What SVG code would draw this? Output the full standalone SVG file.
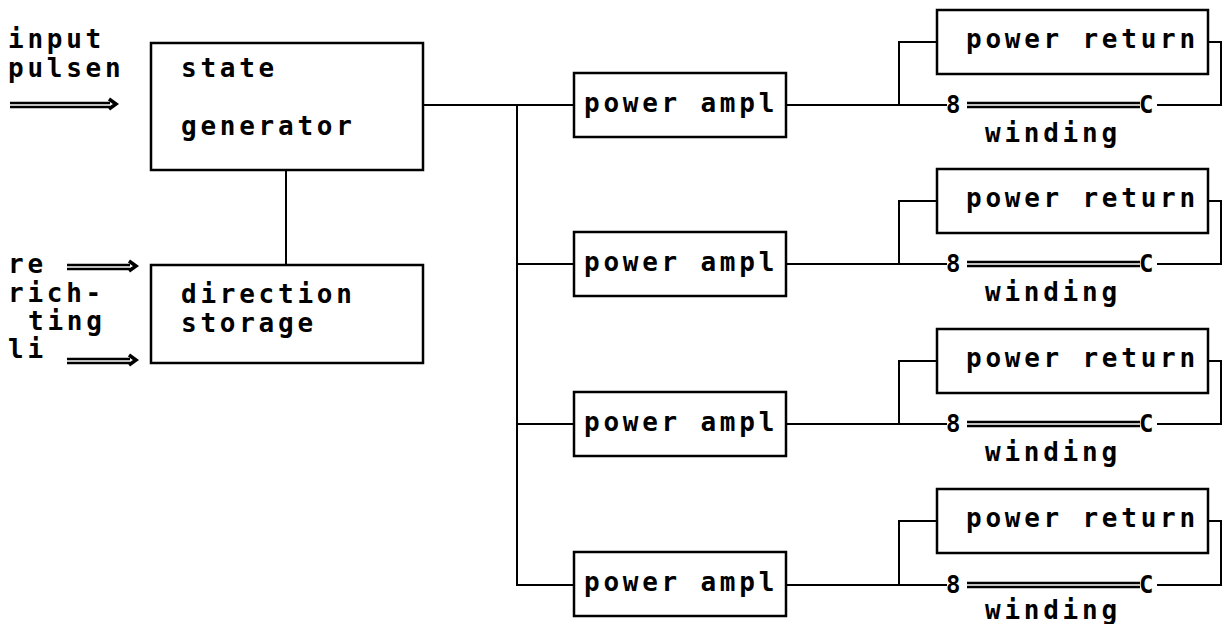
<svg xmlns="http://www.w3.org/2000/svg" width="1224" height="624" viewBox="0 0 1224 624">
<defs>
<style>
.box{fill:none;stroke:#000;stroke-width:2.5}
.ln{fill:none;stroke:#000;stroke-width:2}
.dbl{fill:none;stroke:#000;stroke-width:2.3}
.head{fill:none;stroke:#000;stroke-width:3.5;stroke-linejoin:miter}
.t{font-family:"DejaVu Sans Mono","Liberation Mono",monospace;font-size:26px;font-weight:bold;letter-spacing:3.75px;fill:#000}
.s{font-family:"DejaVu Sans Mono","Liberation Mono",monospace;font-size:24px;font-weight:bold;fill:#000}
</style>
</defs>
<rect width="1224" height="624" fill="#fff"/>

<g id="input-pulsen">
<text class="t" x="8" y="48">input</text>
<text class="t" x="8" y="77">pulsen</text>
<path class="dbl" d="M10,103H110M10,107H110"/>
<path class="head" d="M109,99L116,104L109,109"/>
</g>
<g id="input-richting">
<text class="t" x="8" y="273">re</text>
<text class="t" x="8" y="302">rich-</text>
<text class="t" x="28" y="330">ting</text>
<text class="t" x="8" y="358">li</text>
<path class="dbl" d="M67,265H130M67,269H130"/>
<path class="head" d="M129,261L136,266L129,271"/>
<path class="dbl" d="M67,359H130M67,363H130"/>
<path class="head" d="M129,355L136,360L129,365"/>
</g>

<g id="state-generator">
<rect class="box" x="151" y="43" width="272" height="127"/>
<text class="t" x="181" y="77">state</text>
<text class="t" x="181" y="135">generator</text>
</g>
<g id="direction-storage">
<rect class="box" x="151" y="265" width="272" height="98"/>
<text class="t" x="181" y="303">direction</text>
<text class="t" x="181" y="332">storage</text>
</g>

<g id="power-ampl-1"><rect class="box" x="574" y="73" width="212" height="64"/><text class="t" x="584" y="112">power ampl</text></g>
<g id="power-ampl-2"><rect class="box" x="574" y="232" width="212" height="64"/><text class="t" x="584" y="271">power ampl</text></g>
<g id="power-ampl-3"><rect class="box" x="574" y="392" width="212" height="64"/><text class="t" x="584" y="431">power ampl</text></g>
<g id="power-ampl-4"><rect class="box" x="574" y="552" width="212" height="64"/><text class="t" x="584" y="591">power ampl</text></g>

<g id="power-return-1"><rect class="box" x="937" y="10" width="271" height="64"/><text class="t" x="966" y="48">power return</text></g>
<g id="power-return-2"><rect class="box" x="937" y="169" width="271" height="64"/><text class="t" x="966" y="207">power return</text></g>
<g id="power-return-3"><rect class="box" x="937" y="329" width="271" height="64"/><text class="t" x="966" y="367">power return</text></g>
<g id="power-return-4"><rect class="box" x="937" y="489" width="271" height="64"/><text class="t" x="966" y="527">power return</text></g>

<g id="winding-1"><text class="s" x="946" y="113">8</text><path class="dbl" d="M967,103H1140M967,107H1140"/><text class="s" x="1139" y="113">C</text><text class="t" x="985" y="142">winding</text></g>
<g id="winding-2"><text class="s" x="946" y="272">8</text><path class="dbl" d="M967,262H1140M967,266H1140"/><text class="s" x="1139" y="272">C</text><text class="t" x="985" y="301">winding</text></g>
<g id="winding-3"><text class="s" x="946" y="432">8</text><path class="dbl" d="M967,422H1140M967,426H1140"/><text class="s" x="1139" y="432">C</text><text class="t" x="985" y="461">winding</text></g>
<g id="winding-4"><text class="s" x="946" y="593">8</text><path class="dbl" d="M967,583H1140M967,587H1140"/><text class="s" x="1139" y="593">C</text><text class="t" x="985" y="619">winding</text></g>

<g id="connectors">
<path class="ln" d="M286,170V265"/>
<path class="ln" d="M423,105H574"/>
<path class="ln" d="M517,105V585H574"/>
<path class="ln" d="M517,264H574"/>
<path class="ln" d="M517,424H574"/>
<path class="ln" d="M786,105H947M899,105V42H937"/>
<path class="ln" d="M1157,105H1221V42H1208"/>
<path class="ln" d="M786,264H947M899,264V201H937"/>
<path class="ln" d="M1157,264H1221V201H1208"/>
<path class="ln" d="M786,424H947M899,424V361H937"/>
<path class="ln" d="M1157,424H1221V361H1208"/>
<path class="ln" d="M786,585H947M899,585V521H937"/>
<path class="ln" d="M1157,585H1221V521H1208"/>
</g>
</svg>
